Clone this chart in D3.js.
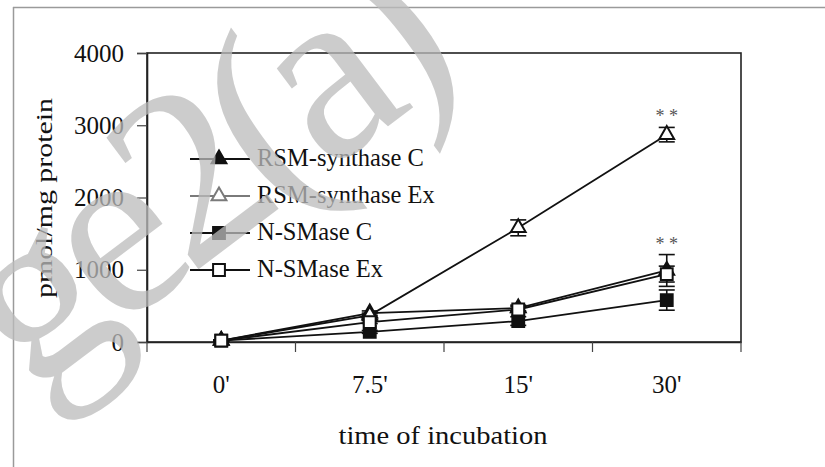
<!DOCTYPE html>
<html>
<head>
<meta charset="utf-8">
<script src="https://cdn.jsdelivr.net/npm/d3@7"></script>
<style>
  html, body { margin: 0; padding: 0; background: #fff; }
  svg { display: block; }
  text { font-family: "Liberation Serif", "Times New Roman", serif; fill: #111; }
</style>
</head>
<body>
<svg id="chart" width="825" height="467"></svg>
<script>
// ---- data ----
const categories = ["0'", "7.5'", "15'", "30'"];
const yTicks = [0, 1000, 2000, 3000, 4000];
const seriesNames = ["RSM-synthase C", "RSM-synthase Ex", "N-SMase C", "N-SMase Ex"];
const rsmC     = [20, 400, 470, 990];
const rsmCErr  = [10, 30, 40, 220];
const rsmEx    = [20, 370, 1580, 2870];
const rsmExErr = [10, 30, 110, 100];
const nsmC     = [20, 140, 290, 580];
const nsmCErr  = [10, 20, 60, 140];
const nsmEx    = [20, 275, 450, 940];
const nsmExErr = [10, 20, 40, 110];
const significance = [
  { series: 1, index: 3, label: "* *" },
  { series: 0, index: 3, label: "* *" }
];
const xTitle = "time of incubation";
const yTitle = "pmol/mg protein";
const watermark = "ge2(a)";

const series = [
  { name: seriesNames[0], values: rsmC,  errs: rsmCErr,  shape: d3.symbolTriangle, filled: true },
  { name: seriesNames[1], values: rsmEx, errs: rsmExErr, shape: d3.symbolTriangle, filled: false },
  { name: seriesNames[2], values: nsmC,  errs: nsmCErr,  shape: d3.symbolSquare,   filled: true },
  { name: seriesNames[3], values: nsmEx, errs: nsmExErr, shape: d3.symbolSquare,   filled: false }
];

// ---- layout ----
const svg = d3.select("#chart");
const L = 147, R = 741, T = 53, B = 342;

const x = d3.scaleBand().domain(categories).range([L, R]).padding(0);
const y = d3.scaleLinear().domain([0, 4000]).range([B, T]);
const cx = c => x(c) + x.bandwidth() / 2;

// outer frame
svg.append("line").attr("x1", 13.5).attr("x2", 13.5).attr("y1", 7).attr("y2", 467)
  .attr("stroke", "#9a9a9a").attr("stroke-width", 1.5);
svg.append("line").attr("x1", 13).attr("x2", 825).attr("y1", 7.5).attr("y2", 7.5)
  .attr("stroke", "#9a9a9a").attr("stroke-width", 1.5);

// plot frame
svg.append("rect").attr("x", L).attr("y", T).attr("width", R - L).attr("height", B - T)
  .attr("fill", "none").attr("stroke", "#222").attr("stroke-width", 1.6);

// y axis
const yAxis = svg.append("g").attr("transform", `translate(${L},0)`)
  .call(d3.axisLeft(y).tickValues(yTicks).tickSize(10).tickPadding(13).tickFormat(d3.format("d")));
yAxis.select(".domain").attr("stroke", "#222").attr("stroke-width", 1.6);
yAxis.selectAll(".tick line").attr("stroke", "#444").attr("stroke-width", 1.2);
yAxis.selectAll(".tick text").attr("font-family", "Liberation Serif").attr("font-size", 25)
  .attr("fill", "#111");

// x axis: labels at band centers, ticks at band edges
const xAxis = svg.append("g").attr("transform", `translate(0,${B})`)
  .call(d3.axisBottom(x).tickSize(0).tickPadding(36));
xAxis.select(".domain").attr("stroke", "#222").attr("stroke-width", 1.6);
xAxis.selectAll(".tick text").attr("font-family", "Liberation Serif").attr("font-size", 25)
  .attr("fill", "#111").attr("dy", "0").attr("y", 51);
const edges = categories.map(c => x(c)).concat([R]);
svg.append("g").selectAll("line").data(edges).join("line")
  .attr("x1", d => d).attr("x2", d => d).attr("y1", B).attr("y2", B + 10)
  .attr("stroke", "#444").attr("stroke-width", 1.2);

// titles
svg.append("text").attr("x", (L + R) / 2 - 1).attr("y", 444).attr("text-anchor", "middle")
  .attr("font-size", 25).attr("textLength", 209).attr("lengthAdjust", "spacingAndGlyphs")
  .text(xTitle);
svg.append("text").attr("transform", `translate(52,${(98 + 298) / 2}) rotate(-90)`)
  .attr("text-anchor", "middle").attr("font-size", 24)
  .attr("textLength", 200).attr("lengthAdjust", "spacingAndGlyphs")
  .text(yTitle);

// series
const line = d3.line().x((d, i) => cx(categories[i])).y(d => y(d));
const capW = 8;
series.forEach(s => {
  const g = svg.append("g");
  g.append("path").datum(s.values).attr("d", line)
    .attr("fill", "none").attr("stroke", "#111").attr("stroke-width", 1.8);
  const eb = g.selectAll("g.eb").data(s.values.map((v, i) => ({ v, e: s.errs[i], c: categories[i] })))
    .join("g");
  eb.append("line").attr("x1", d => cx(d.c)).attr("x2", d => cx(d.c))
    .attr("y1", d => y(d.v - d.e)).attr("y2", d => y(d.v + d.e))
    .attr("stroke", "#111").attr("stroke-width", 1.6);
  [1, -1].forEach(sign => {
    eb.append("line").attr("x1", d => cx(d.c) - capW).attr("x2", d => cx(d.c) + capW)
      .attr("y1", d => y(d.v + sign * d.e)).attr("y2", d => y(d.v + sign * d.e))
      .attr("stroke", "#111").attr("stroke-width", 1.6);
  });
});
series.forEach(s => {
  const sym = d3.symbol().type(s.shape).size(s.shape === d3.symbolSquare ? 140 : 95);
  svg.append("g").selectAll("path").data(s.values).join("path")
    .attr("d", sym)
    .attr("transform", (d, i) => `translate(${cx(categories[i])},${y(d)})`)
    .attr("fill", s.filled ? "#111" : "#fff").attr("stroke", "#111").attr("stroke-width", 2);
});

// significance marks
significance.forEach(m => {
  const s = series[m.series];
  svg.append("text").attr("x", cx(categories[m.index]))
    .attr("y", y(s.values[m.index] + s.errs[m.index]) - 5)
    .attr("text-anchor", "middle").attr("font-size", 18).style("fill", "#555")
    .text(m.label);
});

// legend
const legY0 = 159, legStep = 37;
series.forEach((s, i) => {
  const gy = legY0 + i * legStep;
  const col = i === 1 ? "#7a7a7a" : "#111";
  const g = svg.append("g");
  g.append("line").attr("x1", 190).attr("x2", 250).attr("y1", gy).attr("y2", gy)
    .attr("stroke", col).attr("stroke-width", 1.8);
  g.append("path").attr("d", d3.symbol().type(s.shape).size(s.shape === d3.symbolSquare ? 140 : 95))
    .attr("transform", `translate(219,${gy})`)
    .attr("fill", s.filled ? "#111" : "#fff").attr("stroke", col).attr("stroke-width", 2);
  g.append("text").attr("x", 257).attr("y", gy + 7).attr("font-size", 24.5).text(s.name);
});

// watermark overlay: diagonal line of large, tightly spaced glyphs
svg.append("text").attr("transform", "translate(30,396) rotate(-37)")
  .attr("font-family", "Liberation Sans")
  .attr("font-size", 250).attr("letter-spacing", -18)
  .style("fill", "#bcbcbc").style("opacity", 0.75)
  .text(watermark);
</script>
</body>
</html>
